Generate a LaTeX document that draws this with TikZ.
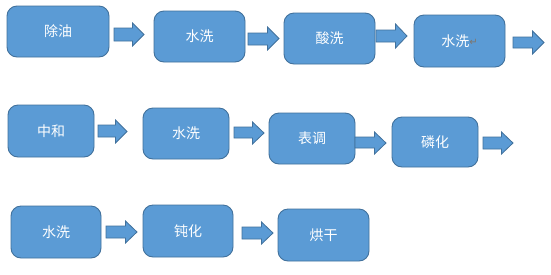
\documentclass[tikz,border=0pt]{standalone}
\usepackage{fontspec}
\newfontfamily\cjk{Noto Sans CJK SC}
\newfontfamily\symfont{DejaVu Sans}
\definecolor{boxfill}{HTML}{5B9BD5}
\definecolor{boxline}{HTML}{41719C}
\definecolor{retgray}{HTML}{7F756B}
\newcommand{\blockarrow}[6]{%
  \fill[boxfill] (#1,#3) -- (#2-11.5,#3) -- (#2-11.5,#5) -- (#2,{(#5+#6)/2}) -- (#2-11.5,#6) -- (#2-11.5,#4) -- (#1,#4) -- cycle;
  \draw[arrline] (#1,#3) -- (#2-11.5,#3) -- (#2-11.5,#5) -- (#2,{(#5+#6)/2}) -- (#2-11.5,#6) -- (#2-11.5,#4) -- (#1,#4) -- cycle;}
\begin{document}
\begin{tikzpicture}[x=1pt,y=-1pt,
  proc/.style={draw=boxline, fill=boxfill, line width=0.9pt, rounded corners=10pt,
    inner sep=0pt, text=white, font=\cjk\fontsize{14}{16}\selectfont},
  arrline/.style={draw=boxline, line width=0.8pt, line join=miter}]
\useasboundingbox (0,0) rectangle (551,274);
\fill[white] (0,0) rectangle (551,274);
% row 1
\node[proc, minimum width=102pt, minimum height=51pt] (s1) at (58,31.5) {除油};
\node[proc, minimum width=91pt, minimum height=51pt] (s2) at (199.5,36.5) {水洗};
\node[proc, minimum width=91pt, minimum height=51pt] (s3) at (329.5,38.5) {酸洗};
\node[proc, minimum width=91pt, minimum height=52pt] (s4) at (459.5,41) {水洗\raisebox{1pt}{\symfont\color{retgray}\fontsize{10}{10}\selectfont ↵}};
% row 2
\node[proc, minimum width=86pt, minimum height=52pt] (s5) at (51,131) {中和};
\node[proc, minimum width=86pt, minimum height=51pt] (s6) at (186,133.5) {水洗};
\node[proc, minimum width=86pt, minimum height=51pt] (s7) at (312,138.5) {表调};
\node[proc, minimum width=86pt, minimum height=50pt] (s8) at (435,142) {磷化};
% row 3
\node[proc, minimum width=90pt, minimum height=52pt] (s9) at (56,232) {水洗};
\node[proc, minimum width=90pt, minimum height=52pt] (s10) at (188,231) {钝化};
\node[proc, minimum width=91pt, minimum height=52pt] (s11) at (323.5,235) {烘干};
% block arrows
\blockarrow{114}{144}{28}{41}{23}{46}
\blockarrow{248}{279}{33}{45}{27}{50}
\blockarrow{376}{407}{30}{42}{24}{48}
\blockarrow{513}{544}{37}{48}{31}{54}
\blockarrow{98}{127}{125}{137}{120}{143}
\blockarrow{234}{264}{127}{138}{122}{144}
\blockarrow{355}{386}{137}{148}{132}{154}
\blockarrow{483}{513}{137}{149}{132}{154}
\blockarrow{106}{137}{226}{238}{221}{243}
\blockarrow{242}{273}{227}{239}{222}{244}
\end{tikzpicture}
\end{document}
